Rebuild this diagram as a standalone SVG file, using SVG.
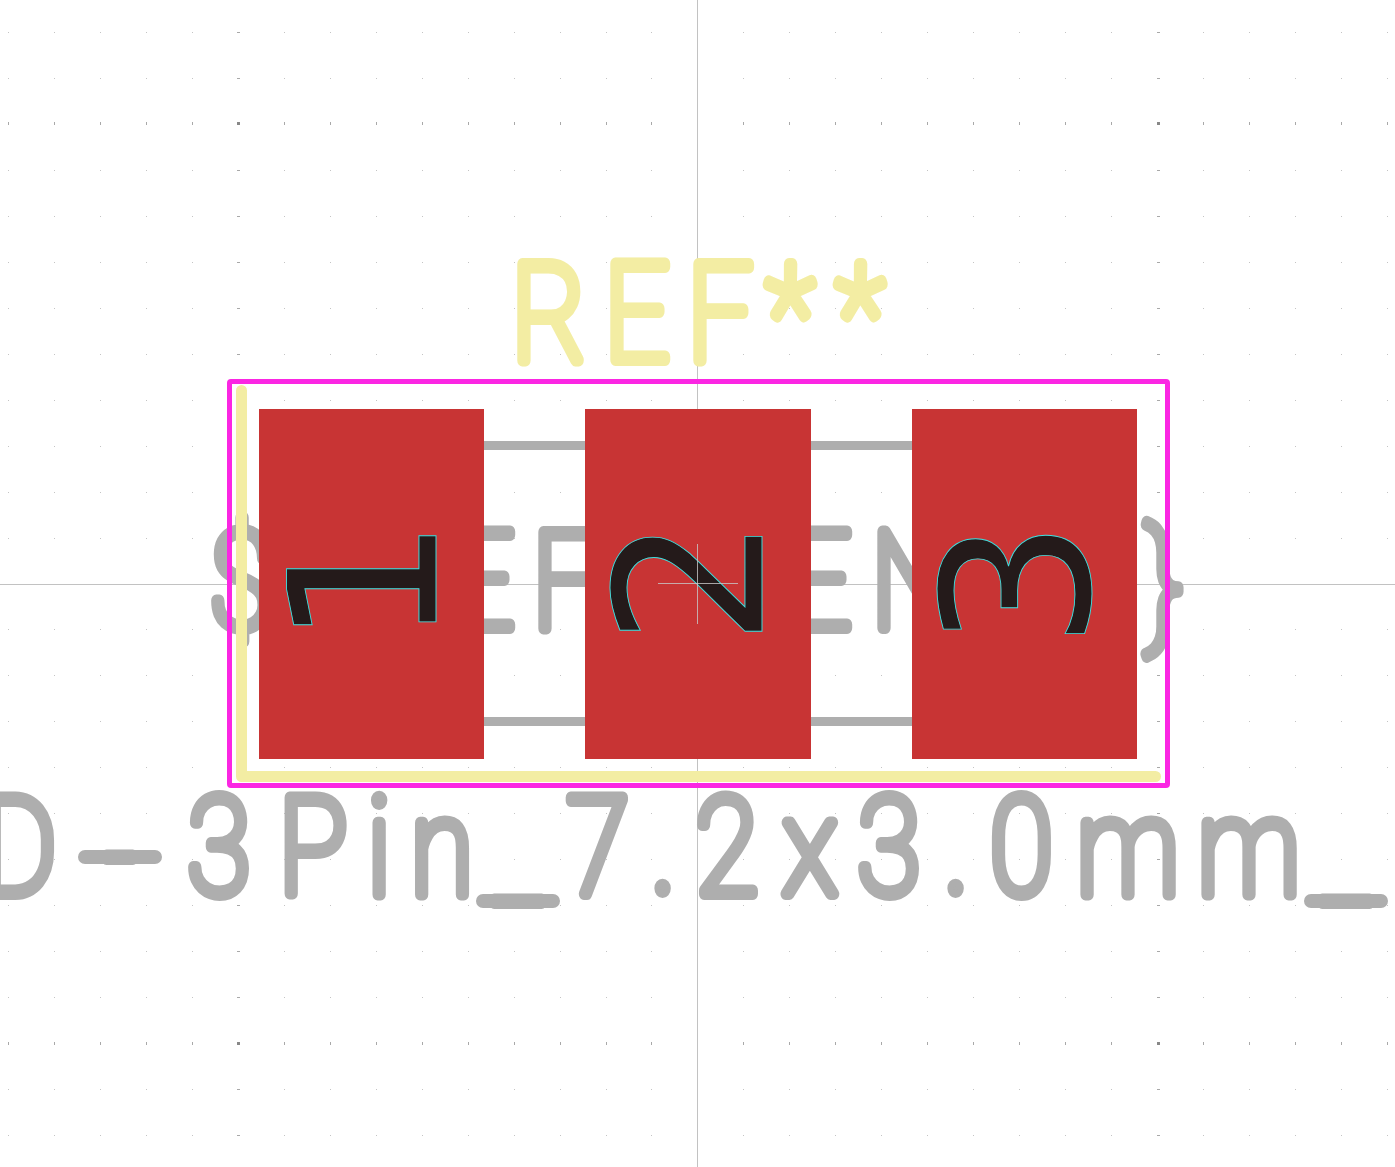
<svg xmlns="http://www.w3.org/2000/svg" width="1395" height="1167" viewBox="0 0 1395 1167">
<style>
.stroke-text{font-family:"Roboto","Liberation Sans",sans-serif;font-weight:100;font-size:135px;text-anchor:middle;stroke-linejoin:round;stroke-linecap:round;stroke-width:12px}
.gray{fill:#aeaeae;stroke:#aeaeae}
.silk{fill:#f3eda3;stroke:#f3eda3}
.pad{fill:#c83434}
.num{font-family:"DejaVu Sans",sans-serif;font-size:205px;text-anchor:middle;fill:#241a1a;stroke:#3fdfdf;stroke-width:.9px}
.dot{fill:none;stroke:#c4c4c4;stroke-width:1}
.mj{fill:none;stroke:#a9a9a9;stroke-width:1}
.axis{fill:#c2c2c2}
.bar{fill:none;stroke:#aeaeae;stroke-width:14;stroke-linecap:round}
</style>
<defs>
<path id="row" class="dot" d="M8 .5h1M54 .5h1M100 .5h1M146 .5h1M192 .5h1M284 .5h1M330 .5h1M376 .5h1M422 .5h1M468 .5h1M514 .5h1M560 .5h1M606 .5h1M651 .5h1M743 .5h1M789 .5h1M835 .5h1M881 .5h1M927 .5h1M973 .5h1M1019 .5h1M1065 .5h1M1111 .5h1M1203 .5h1M1249 .5h1M1295 .5h1M1341 .5h1M1387 .5h1"/>
<path id="rowc" class="mj" d="M237 .5h3M1157 .5h3"/>
<path id="rowm" class="mj" d="M8 0v3M54 0v3M100 0v3M146 0v3M192 0v3M284 0v3M330 0v3M376 0v3M422 0v3M468 0v3M514 0v3M560 0v3M606 0v3M651 0v3M743 0v3M789 0v3M835 0v3M881 0v3M927 0v3M973 0v3M1019 0v3M1065 0v3M1111 0v3M1203 0v3M1249 0v3M1295 0v3M1341 0v3M1387 0v3" transform="translate(.5 0)"/>
</defs>
<rect width="1395" height="1167" fill="#fff"/>
<g id="grid">
<use href="#row" y="32"/><use href="#rowc" y="32"/>
<use href="#row" y="78"/><use href="#rowc" y="78"/>
<use href="#rowm" y="122"/><use href="#rowm" y="1042"/>
<rect x="237" y="122" width="3" height="3" fill="#888"/><rect x="1157" y="122" width="3" height="3" fill="#888"/>
<rect x="237" y="1042" width="3" height="3" fill="#888"/><rect x="1157" y="1042" width="3" height="3" fill="#888"/>
<use href="#row" y="170"/><use href="#rowc" y="170"/>
<use href="#row" y="216"/><use href="#rowc" y="216"/>
<use href="#row" y="262"/><use href="#rowc" y="262"/>
<use href="#row" y="308"/><use href="#rowc" y="308"/>
<use href="#row" y="354"/><use href="#rowc" y="354"/>
<use href="#row" y="400"/><use href="#rowc" y="400"/>
<use href="#row" y="446"/><use href="#rowc" y="446"/>
<use href="#row" y="492"/><use href="#rowc" y="492"/>
<use href="#row" y="538"/><use href="#rowc" y="538"/>
<use href="#row" y="629"/><use href="#rowc" y="629"/>
<use href="#row" y="675"/><use href="#rowc" y="675"/>
<use href="#row" y="721"/><use href="#rowc" y="721"/>
<use href="#row" y="767"/><use href="#rowc" y="767"/>
<use href="#row" y="813"/><use href="#rowc" y="813"/>
<use href="#row" y="859"/><use href="#rowc" y="859"/>
<use href="#row" y="905"/><use href="#rowc" y="905"/>
<use href="#row" y="951"/><use href="#rowc" y="951"/>
<use href="#row" y="997"/><use href="#rowc" y="997"/>
<use href="#row" y="1089"/><use href="#rowc" y="1089"/>
<use href="#row" y="1135"/><use href="#rowc" y="1135"/>
</g>
<g id="axes">
<rect class="axis" x="697" y="0" width="1" height="1167"/>
<rect class="axis" x="0" y="584" width="1395" height="1"/>
</g>
<g id="fab-layer">
<text id="value" class="stroke-text gray" transform="scale(.85 1)" y="894 901 894 894 894 894 899 894 892 894 894 894 892 894 894 894 899" x="22.4 141.2 257.6 368.2 445.9 520 609.4 703.5 780.6 855.3 952.9 1045.9 1125.3 1201.8 1327.1 1469.4 1583.5">D-3Pin_7.2x3.0mm_</text>
<path class="bar" d="M85 857H155M483 901H553M1311 901H1381"/>
<text id="reference" class="stroke-text gray" transform="scale(.85 1)" y="628" x="283.5 352.9 477.6 567.1 664.7 767.1 869.4 963.5 1072.9 1188.2 1287.1 1369.4">${REFERENCE}</text>
<rect x="484" y="441" width="428" height="9" fill="#aeaeae"/>
<rect x="484" y="717" width="428" height="9" fill="#aeaeae"/>
</g>
<g id="silkscreen">
<text id="ref" class="stroke-text silk" transform="scale(.85 1)" y="360" x="645.9 749.4 847.1 929.4 1011.8">REF**</text>
<path d="M241.5 390.5V776.5H1155.5" fill="none" stroke="#f3eda3" stroke-width="11" stroke-linecap="round" stroke-linejoin="round"/>
</g>
<g id="courtyard">
<rect x="229.5" y="381.5" width="938" height="404" rx="1.5" fill="none" stroke="#fb26e3" stroke-width="5"/>
</g>
<g id="pad-1">
<rect class="pad" x="259" y="409" width="225" height="350"/>
<text class="num" transform="translate(436 582) rotate(-90)">1</text>
</g>
<g id="pad-2">
<rect class="pad" x="585" y="409" width="226" height="350"/>
<text class="num" transform="translate(762 581) rotate(-90)">2</text>
</g>
<g id="pad-3">
<rect class="pad" x="912" y="409" width="225" height="350"/>
<text class="num" transform="translate(1089 584) rotate(-90)">3</text>
</g>
<g id="anchor">
<path d="M658 583.5H738M697.5 544V624" fill="none" stroke="#c8c8c8" stroke-width="1" opacity=".8"/>
</g>
</svg>
